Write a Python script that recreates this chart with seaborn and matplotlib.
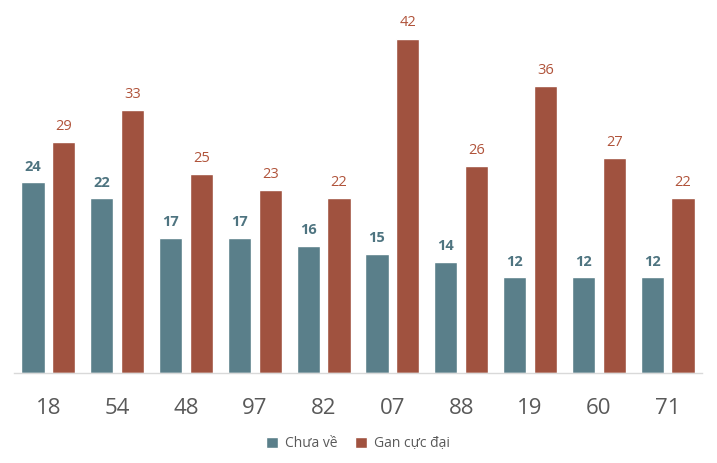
import matplotlib
matplotlib.use("Agg")
import matplotlib.pyplot as plt
import pandas as pd
import seaborn as sns

# Datos
numeros = ["18", "54", "48", "97", "82", "07", "88", "19", "60", "71"]
chua_ve = [24, 22, 17, 17, 16, 15, 14, 12, 12, 12]
gan_cuc_dai = [29, 33, 25, 23, 22, 42, 26, 36, 27, 22]
series = ["Chưa về", "Gan cực đại"]

colores = {"Chưa về": "#5A7F8A", "Gan cực đại": "#A0523F"}
colores_texto = {"Chưa về": "#4E7480", "Gan cực đại": "#B0533A"}

sns.set_theme(style="white")
plt.rcParams["font.family"] = ["Open Sans", "DejaVu Sans"]

df = pd.DataFrame({
    "numero": numeros * 2,
    "valor": chua_ve + gan_cuc_dai,
    "serie": [series[0]] * len(numeros) + [series[1]] * len(numeros),
})

fig = plt.figure(figsize=(7.17, 4.63), dpi=100)
ax = fig.add_axes([14 / 717, 90 / 463, 688 / 717, 353 / 463])

sns.barplot(
    data=df, x="numero", y="valor", hue="serie", order=numeros,
    hue_order=series, palette=colores, width=0.9, gap=0.25,
    saturation=1, ax=ax, legend=True,
)

for cont, serie in zip(ax.containers, series):
    ax.bar_label(
        cont, padding=6, fontsize=10.5, color=colores_texto[serie],
        fontweight="bold" if serie == series[0] else "normal",
    )

ax.set_xlim(-0.5, len(numeros) - 0.5)
ax.set_ylim(0, 353 / 7.96)
ax.set_xlabel("")
ax.set_ylabel("")
ax.set_yticks([])
ax.tick_params(axis="x", length=0, pad=18, labelsize=16, labelcolor="#595959")
for s in ["top", "right", "left"]:
    ax.spines[s].set_visible(False)
ax.spines["bottom"].set_color("#D9D9D9")
ax.spines["bottom"].set_linewidth(1)

ax.legend(
    loc="center", bbox_to_anchor=(0.5, -0.2), ncol=2, frameon=False,
    fontsize=10, handlelength=0.9, handleheight=0.9, handletextpad=0.5,
    columnspacing=1.2, labelcolor="#595959",
)

fig.savefig("out.png", dpi=100)
